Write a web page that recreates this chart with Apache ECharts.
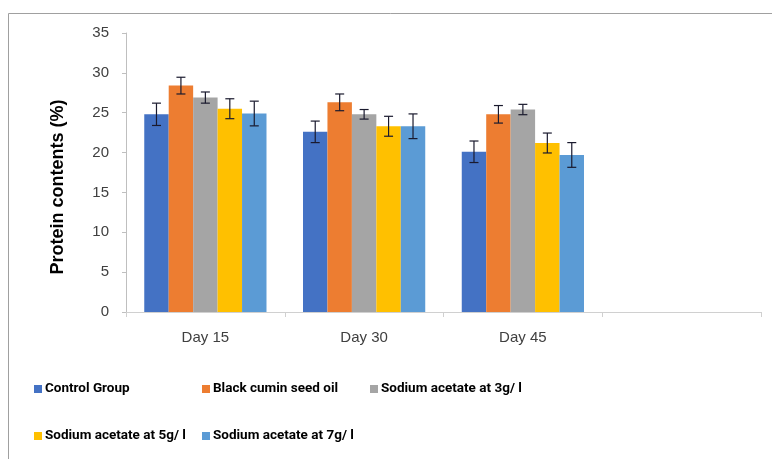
<!DOCTYPE html>
<html>
<head>
<meta charset="utf-8">
<script src="https://cdn.jsdelivr.net/npm/echarts@6/dist/echarts.min.js"></script>
<style>html,body{margin:0;padding:0;background:#fff;}#c{width:772px;height:459px;}</style>
</head>
<body>
<div id="c"></div>
<script>
var categories = ['Day 15', 'Day 30', 'Day 45', ''];
var seriesNames = ['Control Group', 'Black cumin seed oil', 'Sodium acetate at 3g/ l', 'Sodium acetate at 5g/ l', 'Sodium acetate at 7g/ l'];
var controlVals = [24.8, 22.6, 20.1, null];
var cuminVals = [28.4, 26.3, 24.8, null];
var acet3Vals = [26.9, 24.8, 25.4, null];
var acet5Vals = [25.5, 23.3, 21.2, null];
var acet7Vals = [24.9, 23.3, 19.7, null];
var controlErr = [1.4, 1.35, 1.35, null];
var cuminErr = [1.05, 1.05, 1.1, null];
var acet3Err = [0.7, 0.6, 0.65, null];
var acet5Err = [1.25, 1.25, 1.25, null];
var acet7Err = [1.55, 1.55, 1.55, null];
var yTicks = [0, 5, 10, 15, 20, 25, 30, 35];
var yTitle = 'Protein contents (%)';

var colors = ['#4472C4', '#ED7D31', '#A5A5A5', '#FFC000', '#5B9BD5'];
var allVals = [controlVals, cuminVals, acet3Vals, acet5Vals, acet7Vals];
var allErr = [controlErr, cuminErr, acet3Err, acet5Err, acet7Err];
var CAT_GAP = 0.23;

var series = [];
allVals.forEach(function (vals, i) {
  series.push({
    name: seriesNames[i], type: 'bar', data: vals,
    barGap: '0%', barCategoryGap: (CAT_GAP * 100) + '%',
    itemStyle: { color: colors[i] }, emphasis: { disabled: true }
  });
});
allVals.forEach(function (vals, i) {
  var d = [];
  vals.forEach(function (v, k) { if (v != null) d.push([k, v, allErr[i][k]]); });
  series.push({
    type: 'custom', z: 10, silent: true, data: d,
    renderItem: (function (si) {
      return function (params, api) {
        var idx = api.value(0), m = api.value(1), e = api.value(2);
        var band = api.size([1, 0])[0];
        var bw = band * (1 - CAT_GAP) / 5;
        var c = api.coord([idx, m]);
        var x = c[0] + (si - 2) * bw;
        var hi = api.coord([idx, m + e])[1];
        var lo = api.coord([idx, m - e])[1];
        var cap = 4.5;
        var st = { stroke: '#1a1a2e', lineWidth: 1.2 };
        return { type: 'group', children: [
          { type: 'line', shape: { x1: x, y1: hi, x2: x, y2: lo }, style: st },
          { type: 'line', shape: { x1: x - cap, y1: hi, x2: x + cap, y2: hi }, style: st },
          { type: 'line', shape: { x1: x - cap, y1: lo, x2: x + cap, y2: lo }, style: st }
        ]};
      };
    })(i)
  });
});

var legendPos = [[29, 377], [197, 377], [365, 377], [29, 424], [197, 424]];
var legends = seriesNames.map(function (n, i) {
  return {
    data: [n], left: legendPos[i][0], top: legendPos[i][1],
    icon: 'rect', itemWidth: 8, itemHeight: 8, itemGap: 0,
    selectedMode: false,
    textStyle: { fontFamily: 'Roboto', fontWeight: 'bold', fontSize: 13.5, color: '#000', padding: [0, 0, 0, -2] }
  };
});

var chart = echarts.init(document.getElementById('c'), null, { renderer: 'canvas' });
chart.setOption({
  animation: false,
  backgroundColor: '#fff',
  color: colors,
  graphic: [
    { type: 'rect', shape: { x: 8.5, y: 13.5, width: 800, height: 500 }, style: { fill: 'none', stroke: '#A0A0A0', lineWidth: 1 }, silent: true },
    { type: 'text', x: 58, y: 187, rotation: Math.PI / 2, silent: true,
      style: { text: yTitle, fontFamily: 'Liberation Sans', fontWeight: 'bold', fontSize: 18, fill: '#000', align: 'center', verticalAlign: 'middle' } }
  ],
  legend: legends,
  grid: { left: 126, right: 11, top: 33, bottom: 147 },
  xAxis: {
    type: 'category', data: categories,
    axisLine: { lineStyle: { color: '#D0D0D0', width: 1 } },
    axisTick: { show: true, length: 5, lineStyle: { color: '#D0D0D0' } },
    axisLabel: { fontFamily: 'Liberation Sans', fontSize: 15, color: '#404040', margin: 18 }
  },
  yAxis: {
    type: 'value', min: yTicks[0], max: yTicks[yTicks.length - 1], interval: 5,
    axisLine: { show: true, lineStyle: { color: '#BFBFBF' } },
    axisTick: { show: true, length: 4, lineStyle: { color: '#BFBFBF' } },
    splitLine: { show: false },
    axisLabel: { fontFamily: 'Liberation Sans', fontSize: 15, color: '#404040', margin: 17 }
  },
  series: series
});
</script>
</body>
</html>
